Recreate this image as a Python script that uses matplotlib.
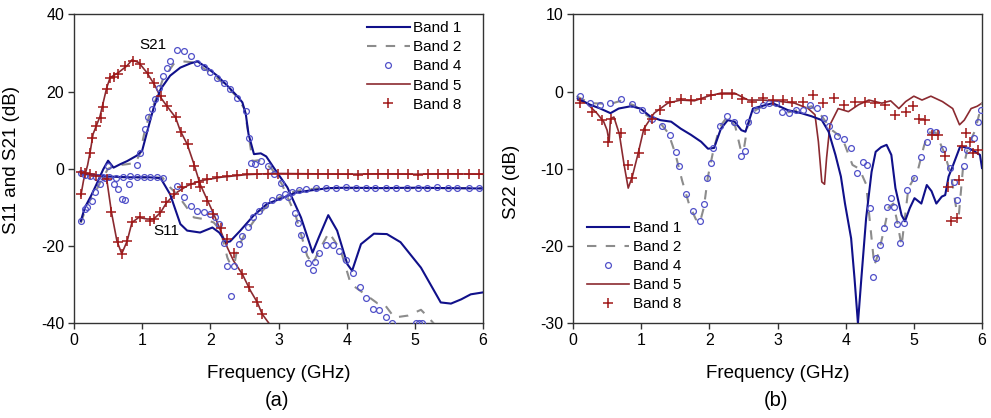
import matplotlib
matplotlib.use("Agg")
import matplotlib.pyplot as plt
from matplotlib.lines import Line2D

plt.rcParams['font.family'] = ['Liberation Sans', 'DejaVu Sans']
plt.rcParams['axes.unicode_minus'] = False

# ---------------- (a) S11 and S21 ----------------
b1_s21_f = [0.10, 0.16, 0.25, 0.33, 0.43, 0.50, 0.58, 0.68, 0.78, 0.92, 1.00, 1.07, 1.17, 1.27, 1.41, 1.56,
            1.71, 1.81, 1.95, 2.10, 2.25, 2.39, 2.47, 2.52, 2.56, 2.64, 2.74, 2.82, 2.93, 3.13, 3.33, 3.50,
            3.59, 3.73, 3.86, 4.01, 4.08, 4.21, 4.40, 4.59, 4.79, 5.09, 5.38, 5.53, 5.68, 5.82, 6.00]
b1_s21_db = [-13.5, -10.0, -7.0, -4.0, -0.1, 2.1, 0.3, 1.2, 2.0, 3.4, 4.7, 9.4, 15.9, 20.6, 24.1, 26.2,
             27.3, 27.8, 26.2, 24.1, 21.5, 18.9, 17.2, 14.2, 9.0, 3.8, 4.0, 3.2, 0.3, -4.8, -12.6, -21.7,
             -17.8, -12.0, -16.0, -24.7, -26.4, -19.5, -16.8, -16.9, -19.0, -25.6, -34.6, -34.9, -33.8, -32.5, -32.0]

b1_s11_f = [0.10, 0.30, 0.50, 0.80, 1.10, 1.27, 1.41, 1.56, 1.66, 1.85, 2.03, 2.13, 2.23, 2.29, 2.44, 2.63,
            2.83, 3.08, 3.25, 3.43, 3.73, 4.00, 4.50, 5.00, 5.50, 6.00]
b1_s11_db = [-1.2, -1.6, -2.0, -2.2, -2.2, -2.4, -6.6, -14.3, -16.0, -16.5, -15.2, -16.5, -19.0, -18.8, -16.0, -12.2,
             -9.1, -7.4, -6.2, -5.7, -5.0, -4.9, -5.0, -4.9, -5.0, -5.1]

b2_s21_f = [0.10, 0.20, 0.30, 0.40, 0.50, 0.60, 0.78, 0.90, 0.97, 1.04, 1.10, 1.20, 1.30, 1.46, 1.60, 1.73,
            1.85, 2.00, 2.20, 2.40, 2.50, 2.55, 2.59, 2.62, 2.70, 2.80, 2.90, 3.05, 3.25, 3.42, 3.50, 3.60,
            3.74, 3.91, 4.06, 4.31, 4.45, 4.55, 4.70, 4.90, 5.09, 5.20, 5.30, 5.60]
b2_s21_db = [-14.0, -9.0, -6.5, -3.0, 0.0, 0.8, 1.2, 1.5, 4.0, 10.0, 13.5, 18.0, 23.0, 27.1, 27.8, 27.6,
             26.5, 25.0, 22.0, 18.5, 15.5, 10.0, 5.5, 2.0, 2.2, 1.5, 0.0, -4.0, -12.0, -22.5, -24.7, -21.0,
             -16.5, -21.0, -29.8, -33.0, -34.8, -35.0, -38.5, -38.0, -36.5, -38.5, -40.5, -41.0]

b2_s11_f = [0.10, 0.50, 0.90, 1.30, 1.41, 1.53, 1.76, 1.90, 2.05, 2.15, 2.25, 2.30, 2.36, 2.39, 2.50, 2.70,
            2.90, 3.10, 3.30, 3.60, 4.50, 5.50, 6.00]
b2_s11_db = [-1.3, -2.1, -2.2, -2.3, -4.8, -7.0, -12.6, -13.0, -13.9, -16.0, -23.0, -25.0, -24.0, -21.2, -17.0, -12.0,
             -8.5, -6.6, -5.6, -5.0, -5.0, -5.0, -5.0]

b4_s21_f = [0.10, 0.16, 0.19, 0.26, 0.31, 0.38, 0.45, 0.50, 0.58, 0.65, 0.70, 0.75, 0.80, 0.92, 0.97, 1.04,
            1.09, 1.14, 1.19, 1.24, 1.31, 1.36, 1.41, 1.51, 1.61, 1.71, 1.80, 1.90, 2.00, 2.10, 2.20, 2.29,
            2.39, 2.52, 2.56, 2.60, 2.66, 2.75, 2.84, 2.94, 3.04, 3.14, 3.24, 3.28, 3.33, 3.38, 3.44, 3.50,
            3.54, 3.60, 3.69, 3.80, 3.89, 3.99, 4.10, 4.19, 4.28, 4.38, 4.48, 4.58, 4.67, 5.02, 5.06, 5.10]
b4_s21_db = [-13.5, -10.3, -9.8, -8.3, -6.1, -4.0, -2.5, 0.8, -4.0, -5.3, -7.9, -8.1, -4.0, 1.0, 4.2, 10.3,
             13.3, 15.5, 18.0, 21.0, 24.1, 26.0, 28.0, 30.7, 30.6, 29.3, 27.5, 26.4, 25.1, 23.6, 22.1, 20.6,
             18.3, 15.0, 8.1, 1.4, 1.2, 2.1, 0.7, -1.3, -3.8, -7.2, -11.5, -14.1, -17.1, -20.8, -24.5, -26.2,
             -24.0, -21.9, -19.7, -19.7, -21.4, -23.6, -26.9, -30.5, -33.5, -36.4, -36.6, -38.3, -39.9, -39.9, -39.8, -39.9]

b4_s11_f = [0.10, 0.16, 0.23, 0.33, 0.43, 0.52, 0.62, 0.72, 0.82, 0.92, 1.02, 1.12, 1.22, 1.31, 1.51, 1.61,
            1.71, 1.81, 1.90, 2.00, 2.07, 2.12, 2.20, 2.25, 2.30, 2.34, 2.42, 2.47, 2.55, 2.63, 2.72, 2.80,
            2.90, 3.00, 3.10, 3.20, 3.30, 3.41, 3.55, 3.70, 3.84, 3.99, 4.13, 4.28, 4.42, 4.57, 4.72, 4.89,
            5.04, 5.18, 5.33, 5.48, 5.62, 5.79, 5.94]
b4_s11_db = [-1.2, -1.5, -1.8, -2.0, -2.2, -2.0, -2.3, -2.2, -1.8, -2.2, -2.2, -2.2, -2.2, -2.4, -4.4, -7.4,
             -9.6, -10.9, -11.3, -11.7, -12.6, -14.2, -19.3, -25.1, -32.9, -25.1, -19.5, -17.5, -15.0, -12.6, -11.0, -9.5,
             -8.2, -7.3, -6.5, -6.0, -5.6, -5.2, -5.0, -4.9, -5.1, -4.7, -5.0, -4.9, -5.1, -5.0, -4.9, -5.1,
             -5.0, -4.9, -4.8, -5.0, -5.1, -4.9, -5.0]

b5_s21_f = [0.10, 0.14, 0.20, 0.24, 0.28, 0.38, 0.48, 0.53, 0.65, 0.78, 0.85, 0.95, 1.07, 1.19, 1.27, 1.36,
            1.49, 1.56, 1.66, 1.76, 1.85, 2.05, 2.15, 2.25, 2.34, 2.47, 2.59, 2.69, 2.76, 2.86, 2.90]
b5_s21_db = [-7.0, -3.0, 1.0, 4.7, 9.0, 13.5, 21.0, 23.6, 24.9, 26.7, 28.2, 27.5, 24.9, 21.5, 18.5, 16.3,
             13.3, 9.8, 6.4, 1.2, -4.0, -11.7, -16.0, -20.4, -23.8, -27.3, -31.6, -34.6, -37.6, -40.0, -41.5]

b5_s11_f = [0.10, 0.25, 0.38, 0.48, 0.55, 0.63, 0.70, 0.78, 0.85, 0.95, 1.07, 1.17, 1.27, 1.36, 1.51, 1.66,
            1.85, 2.15, 2.54, 2.93, 3.50, 4.00, 4.50, 5.00, 5.50, 6.00]
b5_s11_db = [-1.0, -1.4, -1.8, -2.7, -11.3, -18.7, -22.0, -18.7, -13.9, -12.6, -13.0, -13.0, -11.3, -8.7, -6.1, -4.4,
             -3.1, -2.2, -1.5, -1.2, -1.3, -1.4, -1.3, -1.4, -1.3, -1.4]

b8_s21_f = [0.11, 0.23, 0.27, 0.33, 0.39, 0.43, 0.48, 0.53, 0.58, 0.65, 0.75, 0.86, 0.97, 1.08, 1.18, 1.27,
            1.36, 1.49, 1.57, 1.67, 1.76, 1.85, 1.95, 2.04, 2.15, 2.25, 2.34, 2.47, 2.56, 2.69, 2.76]
b8_s21_db = [-6.5, 4.2, 8.1, 11.1, 13.1, 15.9, 20.6, 23.5, 23.8, 24.5, 26.7, 28.0, 27.1, 24.9, 22.3, 18.9,
             16.3, 13.3, 9.4, 6.4, 0.8, -4.8, -8.3, -11.7, -15.2, -18.2, -21.7, -27.3, -30.7, -34.6, -37.6]

b8_s11_f = [0.10, 0.16, 0.23, 0.33, 0.48, 0.55, 0.65, 0.71, 0.78, 0.85, 0.97, 1.11, 1.17, 1.26, 1.35, 1.46,
            1.58, 1.71, 1.83, 1.95, 2.10, 2.25, 2.39, 2.54, 2.69, 2.84, 2.99, 3.14, 3.28, 3.43, 3.58, 3.72,
            3.87, 4.02, 4.17, 4.31, 4.46, 4.61, 4.76, 4.90, 5.05, 5.20, 5.34, 5.49, 5.64, 5.79, 5.94]
b8_s11_db = [-0.9, -1.2, -1.4, -1.8, -2.7, -11.3, -19.0, -22.0, -18.7, -13.9, -12.6, -13.5, -13.0, -11.3, -8.5, -6.6,
             -4.8, -4.0, -3.3, -2.7, -2.2, -1.8, -1.5, -1.4, -1.4, -1.4, -1.4, -1.4, -1.4, -1.4, -1.4, -1.3,
             -1.4, -1.4, -1.5, -1.4, -1.4, -1.3, -1.4, -1.4, -1.5, -1.4, -1.4, -1.3, -1.4, -1.3, -1.4]

# ---------------- (b) S22 ----------------
b1_s22_f = [0.07, 0.25, 0.40, 0.55, 0.67, 0.85, 0.99, 1.13, 1.28, 1.44, 1.58, 1.73, 1.88, 1.98, 2.07, 2.17,
            2.27, 2.37, 2.47, 2.53, 2.64, 2.76, 2.93, 3.05, 3.15, 3.35, 3.50, 3.65, 3.75, 3.85, 3.93, 3.99,
            4.08, 4.13, 4.18, 4.23, 4.30, 4.38, 4.44, 4.52, 4.60, 4.67, 4.73, 4.82, 4.87, 4.94, 5.01, 5.11,
            5.19, 5.26, 5.33, 5.41, 5.46, 5.51, 5.56, 5.65, 5.68, 5.80, 5.90, 5.97, 6.00]
b1_s22_db = [-0.9, -1.7, -2.2, -2.8, -2.2, -1.9, -2.2, -3.2, -3.7, -3.9, -4.8, -5.6, -6.5, -7.4, -7.3, -4.8,
             -3.7, -3.9, -5.0, -5.2, -2.2, -1.9, -1.5, -2.0, -2.4, -2.8, -3.2, -3.7, -5.2, -8.2, -11.0, -14.5,
             -19.0, -24.2, -30.0, -24.2, -16.4, -10.4, -7.8, -7.2, -6.9, -8.2, -12.5, -16.0, -16.8, -15.1, -13.8, -14.5,
             -12.1, -12.9, -14.5, -13.6, -13.4, -11.0, -9.9, -7.8, -7.1, -7.3, -7.8, -8.2, -9.9]

b2_s22_f = [0.05, 0.25, 0.55, 0.70, 0.90, 1.10, 1.30, 1.40, 1.50, 1.60, 1.70, 1.80, 1.86, 1.92, 1.98, 2.05,
            2.15, 2.26, 2.38, 2.46, 2.50, 2.56, 2.68, 2.85, 3.00, 3.15, 3.35, 3.50, 3.65, 3.80, 3.95, 4.10,
            4.20, 4.30, 4.38, 4.42, 4.48, 4.56, 4.63, 4.70, 4.76, 4.82, 4.86, 4.92, 5.05, 5.15, 5.22, 5.32,
            5.45, 5.55, 5.62, 5.66, 5.72, 5.80, 5.90, 6.00]
b2_s22_db = [-0.6, -1.5, -1.6, -1.2, -1.8, -3.2, -4.3, -5.4, -8.0, -11.5, -14.5, -16.5, -17.0, -15.0, -11.0, -8.0,
             -4.6, -3.3, -4.5, -7.5, -7.8, -4.5, -2.4, -1.6, -1.8, -2.7, -2.3, -1.9, -3.2, -5.0, -6.0, -9.5,
             -10.0, -12.0, -19.0, -22.5, -21.0, -18.0, -15.0, -14.5, -17.0, -20.0, -17.0, -12.5, -10.5, -7.0, -5.3, -5.3,
             -8.0, -11.0, -15.0, -16.0, -10.0, -7.0, -5.0, -1.5]

b4_s22_f = [0.10, 0.25, 0.40, 0.55, 0.71, 0.86, 1.01, 1.16, 1.30, 1.42, 1.51, 1.56, 1.66, 1.76, 1.86, 1.92,
            1.97, 2.03, 2.06, 2.16, 2.26, 2.36, 2.47, 2.52, 2.57, 2.68, 2.78, 2.88, 2.98, 3.07, 3.17, 3.27,
            3.37, 3.48, 3.58, 3.68, 3.76, 3.88, 3.97, 4.08, 4.16, 4.26, 4.31, 4.35, 4.40, 4.45, 4.50, 4.56,
            4.61, 4.66, 4.71, 4.76, 4.80, 4.85, 4.90, 5.00, 5.11, 5.19, 5.24, 5.33, 5.43, 5.53, 5.59, 5.64,
            5.73, 5.78, 5.88, 5.94, 5.99]
b4_s22_db = [-0.6, -1.5, -1.7, -1.5, -0.9, -1.6, -2.4, -3.5, -4.5, -5.6, -7.8, -9.7, -13.2, -15.5, -16.8, -14.5,
             -11.2, -9.3, -7.3, -4.5, -3.2, -3.9, -8.4, -7.7, -3.9, -2.4, -1.7, -1.5, -1.5, -2.6, -2.8, -2.4,
             -2.4, -1.8, -2.1, -3.4, -4.5, -5.8, -6.1, -7.3, -10.6, -9.1, -9.5, -15.1, -24.0, -21.6, -19.9, -17.7,
             -15.0, -13.8, -14.9, -17.2, -19.6, -17.0, -12.7, -11.2, -8.5, -6.5, -5.1, -5.2, -7.4, -9.9, -11.7, -14.0,
             -9.6, -7.6, -6.0, -3.9, -2.4]

b5_s22_f = [0.07, 0.20, 0.35, 0.45, 0.50, 0.53, 0.55, 0.60, 0.68, 0.75, 0.81, 0.87, 0.95, 1.04, 1.19, 1.39,
            1.58, 1.78, 1.98, 2.17, 2.37, 2.57, 2.76, 2.96, 3.25, 3.45, 3.55, 3.60, 3.65, 3.69, 3.72, 3.77,
            3.89, 4.04, 4.19, 4.34, 4.53, 4.66, 4.78, 4.88, 5.00, 5.12, 5.25, 5.42, 5.57, 5.67, 5.74, 5.84,
            5.93, 6.00]
b5_s22_db = [-1.1, -1.5, -2.8, -3.9, -5.0, -6.5, -3.5, -3.3, -5.5, -9.5, -12.5, -11.0, -8.2, -4.8, -2.8, -1.5,
             -1.1, -1.2, -0.6, -0.2, -0.2, -1.1, -1.1, -1.2, -1.5, -2.2, -3.0, -6.5, -11.7, -12.0, -8.6, -4.3,
             -2.2, -2.6, -1.7, -1.1, -1.5, -1.2, -2.2, -1.3, -0.6, -1.1, -0.6, -1.3, -2.2, -4.3, -3.7, -2.2,
             -1.9, -1.5]

b8_s22_f = [0.10, 0.28, 0.43, 0.52, 0.56, 0.70, 0.81, 0.86, 0.97, 1.06, 1.16, 1.27, 1.43, 1.59, 1.73, 1.88,
            2.03, 2.18, 2.33, 2.48, 2.63, 2.78, 2.93, 3.08, 3.22, 3.37, 3.52, 3.67, 3.83, 3.98, 4.14, 4.29,
            4.43, 4.58, 4.73, 4.88, 4.99, 5.08, 5.17, 5.27, 5.36, 5.45, 5.50, 5.55, 5.63, 5.66, 5.70, 5.76,
            5.82, 5.87, 5.94]
b8_s22_db = [-1.5, -2.6, -3.7, -6.5, -3.5, -5.4, -9.5, -11.2, -8.0, -5.0, -3.5, -2.4, -1.3, -0.9, -1.1, -0.9,
             -0.5, -0.3, -0.3, -0.9, -1.3, -0.8, -1.1, -1.1, -1.3, -1.3, -0.4, -1.5, -0.8, -1.8, -1.3, -1.3,
             -1.5, -1.7, -3.0, -2.6, -1.9, -3.5, -3.7, -5.6, -5.6, -8.4, -12.3, -16.8, -16.4, -11.4, -7.1, -5.4,
             -6.5, -8.0, -7.6]

legend_labels = ["Band 1", "Band 2", "Band 4", "Band 5", "Band 8"]

# ---------------- styles ----------------
C_B1 = "#10108a"
C_B2 = "#8c8c8c"
C_B4 = "#5050c8"
C_B5 = "#8b2a30"
C_B8 = "#a01818"

st_b1 = dict(color=C_B1, lw=1.5, zorder=4)
st_b2 = dict(color=C_B2, lw=1.5, ls=(0, (4.5, 4.5)), zorder=3)
st_b4 = dict(ls="none", marker="o", ms=4.2, mfc="none", mec=C_B4, mew=0.9, zorder=5)
st_b5 = dict(color=C_B5, lw=1.2, zorder=2)
st_b8 = dict(ls="none", marker="+", ms=6.5, mec=C_B8, mew=1.1, zorder=6)

fig = plt.figure(figsize=(9.91, 4.18), dpi=100)
axa = fig.add_axes([74 / 991, 1 - 323.3 / 418, 409 / 991, 309 / 418])
axb = fig.add_axes([573 / 991, 1 - 323.3 / 418, 409 / 991, 309 / 418])

# panel (a)
axa.plot(b5_s21_f, b5_s21_db, **st_b5)
axa.plot(b5_s11_f, b5_s11_db, **st_b5)
axa.plot(b8_s21_f, b8_s21_db, **st_b8)
axa.plot(b8_s11_f, b8_s11_db, **st_b8)
axa.plot(b2_s21_f, b2_s21_db, **st_b2)
axa.plot(b2_s11_f, b2_s11_db, **st_b2)
axa.plot(b1_s21_f, b1_s21_db, **st_b1)
axa.plot(b1_s11_f, b1_s11_db, **st_b1)
axa.plot(b4_s21_f, b4_s21_db, **st_b4)
axa.plot(b4_s11_f, b4_s11_db, **st_b4)
axa.set_ylim(-40, 40)
axa.set_yticks([-40, -20, 0, 20, 40])
axa.set_ylabel("S11 and S21 (dB)", fontsize=13.5)
axa.yaxis.set_label_coords(-0.132, 0.53)
axa.text(1.16, 32.1, "S21", fontsize=11, ha="center", va="center")
axa.text(1.35, -16.1, "S11", fontsize=11, ha="center", va="center")

# panel (b)
axb.plot(b5_s22_f, b5_s22_db, **st_b5)
axb.plot(b8_s22_f, b8_s22_db, **st_b8)
axb.plot(b2_s22_f, b2_s22_db, **st_b2)
axb.plot(b1_s22_f, b1_s22_db, **st_b1)
axb.plot(b4_s22_f, b4_s22_db, **st_b4)
axb.set_ylim(-30, 10)
axb.set_yticks([-30, -20, -10, 0, 10])
axb.set_ylabel("S22 (dB)", fontsize=13.5)
axb.yaxis.set_label_coords(-0.13, 0.457)

handles = [Line2D([], [], **{k: v for k, v in st.items() if k != "zorder"})
           for st in (st_b1, st_b2, st_b4, st_b5, st_b8)]

for ax, panel, anchor in ((axa, "(a)", (0.716, 0.977)), (axb, "(b)", (0.0335, 0.33))):
    ax.set_xlim(0, 6)
    ax.set_xticks(range(0, 7))
    ax.set_xlabel("Frequency (GHz)", fontsize=13.5)
    ax.xaxis.set_label_coords(0.5, -0.135)
    ax.text(0.496, -0.25, panel, transform=ax.transAxes, fontsize=14.5, ha="center", va="center")
    ax.tick_params(direction="out", length=4, width=1, labelsize=11.5, color="#333333", pad=3,
                   top=False, right=False)
    for sp in ax.spines.values():
        sp.set_color("#333333")
        sp.set_linewidth(1.0)
    ax.legend(handles, legend_labels, loc="upper left", bbox_to_anchor=anchor, frameon=False,
              fontsize=11, handlelength=2.8, handletextpad=0.25, labelspacing=0.33,
              borderpad=0, borderaxespad=0, numpoints=1)

fig.savefig("out.png", dpi=100)
